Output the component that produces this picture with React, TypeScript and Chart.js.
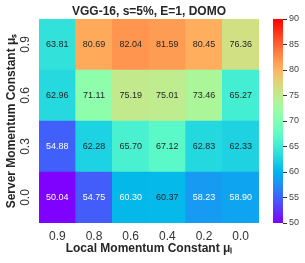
import React, { useEffect, useRef } from "react";
import { Chart, registerables } from "chart.js";

Chart.register(...registerables);

const title = "VGG-16, s=5%, E=1, DOMO";
const localLabels = ["0.9", "0.8", "0.6", "0.4", "0.2", "0.0"];
// rows from bottom to top
const serverLabels = ["0.0", "0.3", "0.6", "0.9"];
const row00 = [50.04, 54.75, 60.3, 60.37, 58.23, 58.9];
const row03 = [54.88, 62.28, 65.7, 67.12, 62.83, 62.33];
const row06 = [62.96, 71.11, 75.19, 75.01, 73.46, 65.27];
const row09 = [63.81, 80.69, 82.04, 81.59, 80.45, 76.36];
const rows = [row00, row03, row06, row09];
const vmin = 50;
const vmax = 90;
const colorbarTicks = [50, 55, 60, 65, 70, 75, 80, 85, 90];

const FONT = "'Liberation Sans', Arial, sans-serif";

function rainbow(t: number): [number, number, number] {
  const x = Math.max(0, Math.min(1, t));
  const r = Math.max(0, Math.min(1, Math.abs(2 * x - 0.5)));
  const g = Math.max(0, Math.min(1, Math.sin(Math.PI * x)));
  const b = Math.max(0, Math.min(1, Math.cos((Math.PI * x) / 2)));
  return [r, g, b];
}

function colorFor(v: number): string {
  const [r, g, b] = rainbow((v - vmin) / (vmax - vmin));
  return `rgb(${Math.round(r * 255)},${Math.round(g * 255)},${Math.round(b * 255)})`;
}

function luminance(v: number): number {
  const c = rainbow((v - vmin) / (vmax - vmin)).map((u) =>
    u <= 0.03928 ? u / 12.92 : Math.pow((u + 0.055) / 1.055, 2.4)
  );
  return 0.2126 * c[0] + 0.7152 * c[1] + 0.0722 * c[2];
}

const cellLabels = {
  id: "cellLabels",
  afterDatasetsDraw(chart: any) {
    const ctx = chart.ctx;
    ctx.save();
    ctx.font = `9px ${FONT}`;
    ctx.textAlign = "center";
    ctx.textBaseline = "middle";
    chart.data.datasets.forEach((ds: any, di: number) => {
      const meta = chart.getDatasetMeta(di);
      meta.data.forEach((el: any, i: number) => {
        const v = rows[di][i];
        const cy = (el.y + el.base) / 2;
        ctx.fillStyle = luminance(v) <= 0.408 ? "#ffffff" : "#262626";
        ctx.fillText(v.toFixed(2), el.x, cy);
      });
    });
    ctx.restore();
  },
};

export default function App() {
  const mainRef = useRef<HTMLCanvasElement>(null);
  const barRef = useRef<HTMLCanvasElement>(null);

  useEffect(() => {
    document.body.style.margin = "0";
    const main = new Chart(mainRef.current!, {
      type: "bar",
      data: {
        labels: localLabels,
        datasets: rows.map((r, i) => ({
          label: serverLabels[i],
          data: r.map(() => 1),
          backgroundColor: r.map((v) => colorFor(v)),
          borderWidth: 0,
          barPercentage: 1,
          categoryPercentage: 1,
        })),
      },
      options: {
        animation: false,
        responsive: false,
        layout: { padding: { left: 0, right: 3, top: 0, bottom: 0 } },
        plugins: {
          legend: { display: false },
          tooltip: { enabled: false },
          title: {
            display: true,
            text: title,
            fullSize: false,
            color: "#262626",
            font: { family: FONT, size: 12, weight: "bold" },
            padding: { top: 4, bottom: 0.6 },
          },
        },
        scales: {
          x: {
            stacked: true,
            grid: { display: false, drawTicks: false },
            border: { display: false },
            ticks: {
              color: "#333333",
              font: { family: FONT, size: 12 },
              padding: 6,
              maxRotation: 0,
            },
            title: {
              display: true,
              text: "Local Momentum Constant μₗ",
              color: "#262626",
              font: { family: FONT, size: 12, weight: "bold" },
              padding: { top: 0, bottom: 7.3 },
            },
            afterFit: (s: any) => {
              s.height = 40;
            },
          },
          y: {
            stacked: true,
            min: 0,
            max: 4,
            grid: { display: false, drawTicks: false },
            border: { display: false },
            afterBuildTicks: (s: any) => {
              s.ticks = serverLabels.map((_, i) => ({ value: i + 0.5 }));
            },
            ticks: {
              color: "#333333",
              font: { family: FONT, size: 12 },
              minRotation: 90,
              maxRotation: 90,
              crossAlign: "center",
              padding: 4.7,
              callback: (_v: any, i: number) => serverLabels[i],
            },
            title: {
              display: true,
              text: "Server Momentum Constant μₛ",
              color: "#262626",
              font: { family: FONT, size: 12, weight: "bold" },
              padding: { top: 4, bottom: 0 },
            },
            afterFit: (s: any) => {
              s.width = 39;
            },
          },
        },
      },
      plugins: [cellLabels],
    } as any);

    const bar = new Chart(barRef.current!, {
      type: "bar",
      data: {
        labels: ["cb"],
        datasets: [
          {
            data: [[vmin, vmax]],
            backgroundColor: (c: any) => {
              const area = c.chart.chartArea;
              if (!area) return "red";
              const g = c.chart.ctx.createLinearGradient(0, area.bottom, 0, area.top);
              for (let k = 0; k <= 20; k++) {
                g.addColorStop(k / 20, colorFor(vmin + ((vmax - vmin) * k) / 20));
              }
              return g;
            },
            borderWidth: 0,
            barPercentage: 1,
            categoryPercentage: 1,
          },
        ],
      },
      options: {
        animation: false,
        responsive: false,
        layout: { padding: { left: 23, right: 0, top: 19, bottom: 40 } },
        plugins: { legend: { display: false }, tooltip: { enabled: false } },
        scales: {
          x: { display: false },
          y: {
            position: "right",
            min: vmin,
            max: vmax,
            afterBuildTicks: (s: any) => {
              s.ticks = colorbarTicks.map((v) => ({ value: v }));
            },
            grid: {
              drawOnChartArea: false,
              drawTicks: true,
              tickLength: 4,
              tickColor: "#333333",
              tickWidth: 1,
            },
            border: { display: false },
            ticks: {
              color: "#444444",
              font: { family: FONT, size: 9 },
              padding: 2,
            },
            afterFit: (s: any) => {
              s.width = 22;
            },
          },
        },
      },
    } as any);

    return () => {
      main.destroy();
      bar.destroy();
    };
  }, []);

  return (
    <div style={{ position: "fixed", left: 0, top: 0, width: 305, height: 263, background: "#fff" }}>
      <canvas
        ref={mainRef}
        width={262}
        height={263}
        style={{ position: "absolute", left: 0, top: 0, width: 262, height: 263 }}
      />
      <canvas
        ref={barRef}
        width={55}
        height={263}
        style={{ position: "absolute", left: 250, top: 0, width: 55, height: 263 }}
      />
    </div>
  );
}
